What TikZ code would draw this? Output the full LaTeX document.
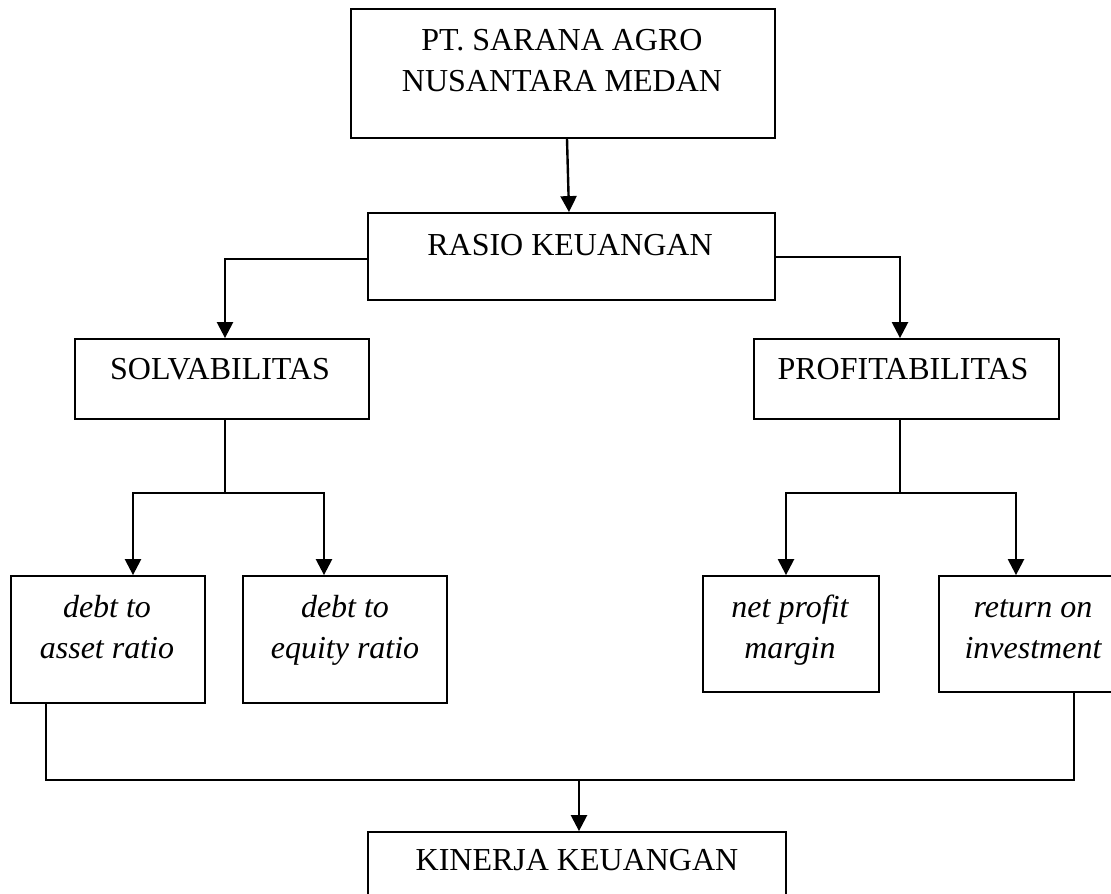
\documentclass[tikz,border=0pt]{standalone}
\usepackage{fontspec}
\setmainfont{Liberation Serif}
\usetikzlibrary{arrows.meta}
\tikzset{
  box/.style={draw=black, line width=1.8pt, rectangle, inner sep=0pt},
  lbl/.style={anchor=base, align=center, inner sep=0pt, font=\fontsize{32}{41}\selectfont},
  ilbl/.style={lbl, font=\fontsize{32}{41}\selectfont\itshape},
  conn/.style={line width=1.8pt},
  arr/.style={line width=2.4pt, -{Triangle[length=16pt,width=16pt]}},
}
\begin{document}
\begin{tikzpicture}[x=1pt,y=-1pt]
\clip (0,0) rectangle (1111,894);
\fill[white] (0,0) rectangle (1111,894);
% boxes
\node[box, minimum width=424pt, minimum height=129pt] (top) at (563,73.5) {};
\node[box, minimum width=407pt, minimum height=87pt] (rasio) at (571.5,256.5) {};
\node[box, minimum width=294pt, minimum height=80pt] (solv) at (222,379) {};
\node[box, minimum width=305pt, minimum height=80pt] (prof) at (906.5,379) {};
\node[box, minimum width=194pt, minimum height=127pt] (dta) at (108,639.5) {};
\node[box, minimum width=204pt, minimum height=127pt] (dte) at (345,639.5) {};
\node[box, minimum width=176pt, minimum height=116pt] (npm) at (791,634) {};
\node[box, minimum width=188pt, minimum height=116pt] (roi) at (1033,634) {};
\node[box, minimum width=418pt, minimum height=78pt] (kin) at (577,871) {};
% texts (base anchor = baseline of last line)
\node[lbl] (ttop) at (562,91) {PT. SARANA AGRO\\NUSANTARA MEDAN};
\node[lbl] (trasio) at (570,255) {RASIO KEUANGAN};
\node[lbl] (tsolv) at (220,379) {SOLVABILITAS};
\node[lbl] (tprof) at (903,379) {PROFITABILITAS};
\node[ilbl] (tdta) at (107,658) {debt to\\asset ratio};
\node[ilbl] (tdte) at (345,658) {debt to\\equity ratio};
\node[ilbl] (tnpm) at (790,658) {net profit\\margin};
\node[ilbl] (troi) at (1033,658) {return on\\investment};
\node[lbl] (tkin) at (577,870) {KINERJA KEUANGAN};
% junctions
\coordinate (sj) at (225,493);
\coordinate (pj) at (900,493);
\coordinate (bj) at (579,780);
% connectors
\draw[arr] ([xshift=4pt]top.south) -- ([xshift=-2.5pt]rasio.north);
\draw[arr] ([yshift=-2.5pt]rasio.west) -| ([xshift=3pt]solv.north);
\draw[arr] ([yshift=-0.5pt]rasio.east) -| ([xshift=-6.5pt]prof.north);
\draw[conn] ([xshift=3pt]solv.south) -- (sj);
\draw[arr] (sj) -| ([xshift=25pt]dta.north);
\draw[arr] (sj) -| ([xshift=-21pt]dte.north);
\draw[conn] ([xshift=-6.5pt]prof.south) -- (pj);
\draw[arr] (pj) -| ([xshift=-5pt]npm.north);
\draw[arr] (pj) -| ([xshift=-17pt]roi.north);
\draw[conn] ([xshift=-62pt]dta.south) |- (bj);
\draw[conn] (bj) -| ([xshift=41pt]roi.south);
\draw[arr] (bj) -- ([xshift=2pt]kin.north);
\end{tikzpicture}
\end{document}
